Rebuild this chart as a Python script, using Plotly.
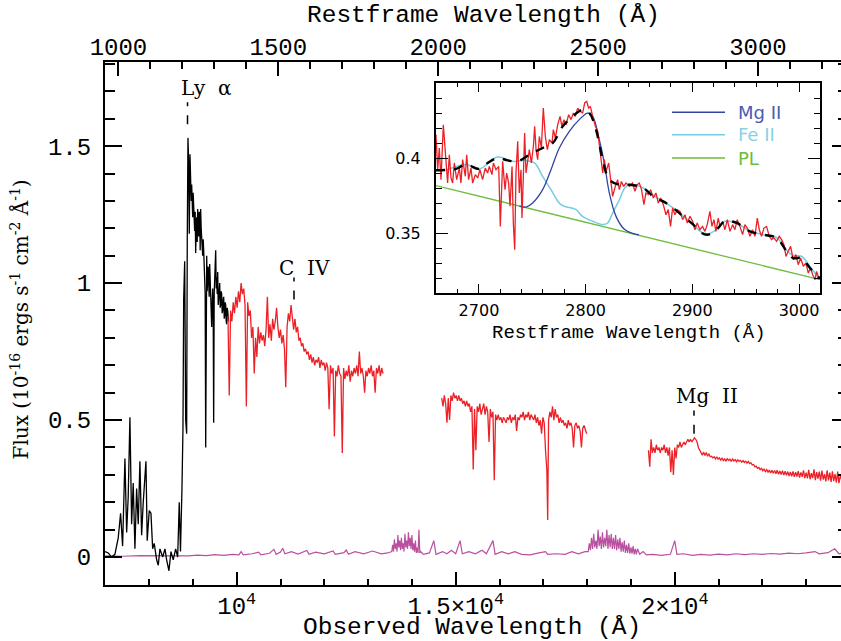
import plotly.graph_objects as go

# ---------------- data ----------------
one_plus_z = 7.30  # observed / restframe wavelength

black_wave = [6995, 7066, 7144, 7219, 7295, 7349, 7395, 7448, 7487, 7523, 7562, 7601, 7637, 7676,
              7715, 7752, 7790, 7829, 7866, 7928, 7957, 8003, 8042, 8081, 8117, 8172, 8209, 8247,
              8309, 8362, 8400, 8453, 8499, 8551, 8606, 8652, 8688, 8716, 8750, 8773, 8789, 8812,
              8835, 8857, 8871, 8887, 8903, 8917, 8933, 8949, 8961, 8972, 8984, 8995, 9006, 9017,
              9029, 9040, 9052, 9063, 9075, 9086, 9098, 9109, 9121, 9132, 9144, 9155, 9166, 9177,
              9189, 9200, 9212, 9223, 9235, 9246, 9258, 9269, 9280, 9292, 9304, 9315, 9326, 9337,
              9349, 9360, 9372, 9383, 9395, 9406, 9418, 9429, 9441, 9452, 9463, 9474, 9486, 9497,
              9509, 9520, 9532, 9543, 9555, 9566, 9578, 9589, 9600, 9612, 9623, 9634, 9646, 9657,
              9668, 9680, 9692, 9703, 9715, 9726, 9738, 9749, 9760, 9771, 9783, 9794, 9813]
black_flux = [0.02, 0.015, 0.0, 0.01, 0.07, 0.16, 0.04, 0.36, 0.09, 0.22, 0.51, 0.12, 0.27, 0.03,
              0.25, 0.12, 0.35, 0.08, 0.20, 0.35, 0.06, 0.17, 0.16, 0.03, 0.05, -0.01, -0.03, 0.03,
              0.0, 0.03, -0.01, -0.05, 0.02, -0.01, 0.03, 0.0, 0.20, 0.02, 0.25, 0.47, 0.94, 1.08,
              0.50, 0.45, 1.15, 1.53, 1.44, 1.18, 1.47, 1.39, 1.30, 1.36, 1.28, 1.24, 1.33, 1.30,
              1.22, 1.19, 1.26, 1.11, 1.20, 1.24, 1.15, 1.27, 1.21, 1.17, 1.26, 1.25, 1.12, 1.27,
              1.20, 1.18, 1.13, 1.10, 1.16, 1.12, 1.06, 1.04, 0.96, 0.40, 1.05, 1.10, 0.97, 1.02,
              1.06, 1.00, 0.95, 1.07, 0.98, 0.92, 0.88, 0.84, 0.93, 0.98, 0.90, 0.49, 0.96, 1.00,
              1.06, 1.12, 0.98, 1.02, 0.96, 1.04, 0.92, 0.95, 0.99, 1.00, 0.91, 0.92, 0.97, 0.96,
              0.89, 0.90, 0.94, 0.95, 0.87, 0.88, 0.93, 0.92, 0.86, 0.85, 0.91, 0.90, 0.86]

red_j_wave = [9800, 9830, 9860, 9890, 9920, 9950, 9980, 10010, 10040, 10070, 10100, 10130, 10160,
              10190, 10220, 10250, 10280, 10310, 10340, 10370, 10400, 10430, 10460, 10490, 10520,
              10550, 10580, 10610, 10640, 10670, 10700, 10730, 10760, 10790, 10820, 10850, 10880,
              10910, 10940, 10970, 11000, 11030, 11060, 11090, 11120, 11150, 11180, 11210, 11240,
              11270, 11300, 11330, 11360, 11390, 11420, 11450, 11480, 11510, 11540, 11570, 11600,
              11630, 11660, 11690, 11720, 11750, 11780, 11810, 11840, 11870, 11900, 11930, 11960,
              11990, 12020, 12050, 12080, 12110, 12140, 12170, 12200, 12230, 12260, 12290, 12320,
              12350, 12380, 12410, 12440, 12470, 12500, 12530, 12560, 12590, 12620, 12650, 12680,
              12710, 12740, 12770, 12800, 12830, 12860, 12890, 12920, 12950, 12980, 13010, 13040,
              13070, 13100, 13130, 13160, 13190, 13220, 13250, 13280, 13310, 13340]
red_j_flux = [0.88, 0.59, 0.90, 0.86, 0.93, 0.89, 0.95, 0.91, 0.97, 0.93, 1.00, 0.96, 0.98,
              0.92, 0.55, 0.93, 0.88, 0.90, 0.80, 0.84, 0.67, 0.80, 0.73, 0.84, 0.78,
              0.82, 0.79, 0.81, 0.77, 0.83, 0.95, 0.80, 0.85, 0.79, 0.87, 0.83, 0.86,
              0.91, 0.84, 0.80, 0.83, 0.78, 0.81, 0.76, 0.62, 0.84, 0.89, 0.86, 0.92,
              0.88, 0.83, 0.87, 0.82, 0.84, 0.79, 0.80, 0.77, 0.78, 0.75, 0.76, 0.74,
              0.75, 0.72, 0.74, 0.71, 0.73, 0.70, 0.72, 0.71, 0.73, 0.69, 0.72, 0.70,
              0.71, 0.68, 0.71, 0.69, 0.54, 0.70, 0.67, 0.69, 0.44, 0.68, 0.66, 0.70,
              0.67, 0.66, 0.38, 0.69, 0.65, 0.68, 0.66, 0.70, 0.64, 0.68, 0.66, 0.69,
              0.67, 0.70, 0.66, 0.75, 0.67, 0.69, 0.66, 0.60, 0.68, 0.66, 0.69, 0.67,
              0.70, 0.66, 0.68, 0.60, 0.69, 0.67, 0.70, 0.66, 0.69, 0.67]

red_h_wave = [14680, 14710, 14740, 14770, 14800, 14830, 14860, 14890, 14920, 14950, 14980, 15010,
              15040, 15070, 15100, 15130, 15160, 15190, 15220, 15250, 15280, 15310, 15340, 15370,
              15400, 15430, 15460, 15490, 15520, 15550, 15580, 15610, 15640, 15670, 15700, 15730,
              15760, 15790, 15820, 15850, 15880, 15910, 15940, 15970, 16000, 16030, 16060, 16090,
              16120, 16150, 16180, 16210, 16240, 16270, 16300, 16330, 16360, 16390, 16420, 16450,
              16480, 16510, 16540, 16570, 16600, 16630, 16660, 16690, 16720, 16750, 16780, 16810,
              16840, 16870, 16900, 16930, 16960, 16990, 17020, 17050, 17080, 17100, 17120, 17150,
              17180, 17210, 17240, 17270, 17300, 17330, 17360, 17390, 17420, 17450, 17480, 17510,
              17540, 17570, 17600, 17630, 17660, 17690, 17720, 17750, 17780, 17810, 17840, 17870,
              17900, 17930, 17960, 17990]
red_h_flux = [0.58, 0.55, 0.59, 0.56, 0.49, 0.58, 0.50, 0.59, 0.57, 0.60, 0.58, 0.59,
              0.57, 0.59, 0.57, 0.58, 0.56, 0.57, 0.55, 0.57, 0.55, 0.56, 0.53, 0.55,
              0.32, 0.54, 0.39, 0.55, 0.53, 0.56, 0.52, 0.54, 0.56, 0.52, 0.55, 0.53,
              0.42, 0.54, 0.51, 0.53, 0.28, 0.52, 0.50, 0.52, 0.50, 0.51, 0.49, 0.51,
              0.50, 0.49, 0.51, 0.50, 0.52, 0.49, 0.51, 0.50, 0.52, 0.46, 0.51, 0.50,
              0.52, 0.51, 0.53, 0.50, 0.52, 0.51, 0.53, 0.50, 0.52, 0.51, 0.50, 0.52,
              0.49, 0.51, 0.48, 0.50, 0.45, 0.51, 0.49, 0.39, 0.32, 0.135, 0.50, 0.53,
              0.51, 0.55, 0.50, 0.54, 0.51, 0.52, 0.49, 0.51, 0.49, 0.50, 0.48, 0.49,
              0.47, 0.50, 0.48, 0.49, 0.47, 0.40, 0.48, 0.49, 0.47, 0.48, 0.46, 0.40,
              0.47, 0.48, 0.46, 0.45]

red_k_wave = [19400, 19430, 19460, 19490, 19520, 19550, 19580, 19610, 19640, 19670, 19700, 19730,
              19760, 19790, 19820, 19850, 19880, 19910, 19940, 19970, 20000, 20030, 20060, 20090,
              20120, 20150, 20180, 20210, 20240, 20270, 20300, 20330, 20360, 20390, 20420, 20450,
              20480, 20510, 20540, 20570, 20600, 20630, 20660, 20690, 20720, 20750, 20780, 20810,
              20840, 20870, 20900, 20930, 20960, 20990, 21020, 21050, 21080, 21110, 21140, 21170,
              21200, 21230, 21260, 21290, 21320, 21350, 21380, 21410, 21440, 21470, 21500, 21530,
              21560, 21590, 21620, 21650, 21680, 21710, 21740, 21770, 21800, 21830, 21860, 21890,
              21920, 21950, 21980, 22010, 22040, 22070, 22100, 22130, 22160, 22190, 22220, 22250,
              22280, 22310, 22340, 22370, 22400, 22430, 22460, 22490, 22520, 22550, 22580, 22610,
              22640, 22670, 22700, 22730, 22760, 22790, 22820, 22850, 22880, 22910, 22940, 22970,
              23000, 23030, 23060, 23090, 23120, 23150, 23180, 23210, 23240, 23270, 23300, 23330,
              23360, 23390, 23420, 23450, 23480, 23510, 23540, 23570, 23600, 23630, 23660, 23690,
              23720, 23750, 23780, 23810]
red_k_flux = [0.39, 0.33, 0.43, 0.38, 0.40, 0.38, 0.41, 0.39, 0.40, 0.38, 0.40, 0.39,
              0.41, 0.38, 0.40, 0.37, 0.40, 0.31, 0.39, 0.30, 0.40, 0.36, 0.41, 0.40,
              0.42, 0.40, 0.41, 0.42, 0.41, 0.42, 0.43, 0.42, 0.43, 0.42, 0.43, 0.435,
              0.43, 0.42, 0.40, 0.39, 0.385, 0.372, 0.383, 0.371, 0.382, 0.368, 0.377, 0.366,
              0.368, 0.362, 0.366, 0.358, 0.366, 0.357, 0.362, 0.354, 0.361, 0.352, 0.358, 0.35,
              0.359, 0.353, 0.357, 0.349, 0.358, 0.351, 0.356, 0.348, 0.355, 0.349, 0.353, 0.346,
              0.352, 0.345, 0.35, 0.343, 0.349, 0.341, 0.344, 0.336, 0.338, 0.329, 0.332, 0.324,
              0.327, 0.319, 0.324, 0.315, 0.321, 0.312, 0.319, 0.309, 0.318, 0.307, 0.317, 0.306,
              0.316, 0.304, 0.317, 0.302, 0.314, 0.301, 0.315, 0.299, 0.313, 0.298, 0.312, 0.296,
              0.311, 0.295, 0.313, 0.293, 0.31, 0.294, 0.314, 0.29, 0.309, 0.293, 0.316, 0.288,
              0.308, 0.287, 0.318, 0.284, 0.306, 0.288, 0.32, 0.281, 0.31, 0.286, 0.312, 0.279,
              0.316, 0.283, 0.303, 0.276, 0.317, 0.28, 0.308, 0.274, 0.313, 0.277, 0.303, 0.272,
              0.312, 0.27, 0.298, 0.283]

err_wave = [7000, 7400, 7800, 8200, 8600, 8900, 9100, 9300, 9500, 9700, 9900, 10050, 10100, 10150,
            10350, 10500, 10550, 10750, 10850, 10900, 11000, 11050, 11100, 11250, 11400, 11600,
            11650, 11800, 12000, 12200, 12250, 12450, 12500, 12550, 12700, 12900, 13100, 13300,
            13450, 13540, 13560, 13580, 13600, 13620, 13640, 13660, 13680, 13700, 13720, 13740,
            13760, 13780, 13800, 13820, 13840, 13860, 13880, 13900, 13920, 13940, 13960, 13980,
            14000, 14020, 14040, 14060, 14080, 14100, 14120, 14140, 14160, 14180, 14200, 14260,
            14400, 14500, 14550, 14700, 14800, 14900, 15000, 15100, 15150, 15300, 15450, 15600,
            15700, 15850, 15900, 16050, 16200, 16350, 16500, 16700, 16900, 17050, 17100, 17300,
            17500, 17650, 17800, 17950, 18025, 18050, 18075, 18100, 18125, 18150, 18175, 18200,
            18225, 18250, 18275, 18300, 18325, 18350, 18375, 18400, 18425, 18450, 18475, 18500,
            18525, 18550, 18575, 18600, 18625, 18650, 18675, 18700, 18725, 18750, 18775, 18800,
            18825, 18850, 18875, 18900, 18925, 18950, 18975, 19000, 19025, 19050, 19075, 19100,
            19125, 19150, 19200, 19280, 19350, 19500, 19700, 19900, 20000, 20050, 20200, 20400,
            20600, 20800, 21000, 21200, 21400, 21600, 21800, 22000, 22200, 22400, 22600, 22800,
            23000, 23200, 23300, 23500, 23650, 23750, 23800]
err_flux = [0.004, 0.003, 0.005, 0.004, 0.005, 0.004, 0.007, 0.005, 0.009, 0.006, 0.01, 0.008, 0.02, 0.008,
            0.012, 0.018, 0.008, 0.014, 0.028, 0.01, 0.018, 0.032, 0.012, 0.02, 0.011, 0.024,
            0.01, 0.018, 0.012, 0.022, 0.01, 0.016, 0.026, 0.01, 0.02, 0.012, 0.022, 0.012,
            0.015, 0.02, 0.045, 0.02, 0.065, 0.03, 0.05, 0.02, 0.08, 0.035, 0.06, 0.025,
            0.07, 0.03, 0.05, 0.02, 0.085, 0.035, 0.06, 0.03, 0.09, 0.04, 0.07, 0.03,
            0.08, 0.025, 0.05, 0.02, 0.06, 0.015, 0.035, 0.015, 0.10, 0.015, 0.02, 0.01,
            0.015, 0.06, 0.01, 0.02, 0.012, 0.025, 0.012, 0.06, 0.012, 0.02, 0.012, 0.025,
            0.012, 0.06, 0.01, 0.02, 0.012, 0.02, 0.01, 0.008, 0.015, 0.02, 0.01, 0.012,
            0.01, 0.02, 0.012, 0.02, 0.02, 0.05, 0.025, 0.07, 0.03, 0.085, 0.035, 0.06,
            0.03, 0.10, 0.04, 0.075, 0.03, 0.09, 0.035, 0.07, 0.04, 0.10, 0.03, 0.08,
            0.035, 0.085, 0.03, 0.07, 0.03, 0.08, 0.025, 0.065, 0.03, 0.07, 0.02, 0.055,
            0.02, 0.06, 0.015, 0.045, 0.015, 0.05, 0.012, 0.035, 0.012, 0.04, 0.01, 0.03,
            0.01, 0.03, 0.01, 0.02, 0.008, 0.01, 0.006, 0.01, 0.06, 0.01, 0.012, 0.006,
            0.01, 0.007, 0.011, 0.008, 0.012, 0.009, 0.012, 0.01, 0.013, 0.011, 0.014, 0.012,
            0.015, 0.02, 0.012, 0.016, 0.03, 0.012, 0.014]

# inset (restframe)
inset_wave = [2659.7, 2661.3, 2662.8, 2664.4, 2666.6, 2668.5, 2670.6, 2672.2, 2673.8, 2675.3, 2676.9,
              2679.1, 2681.6, 2683.1, 2684.7, 2687.2, 2688.5, 2690.3, 2692.5, 2694.1, 2696.6, 2698.8,
              2700.9, 2703.4, 2705.9, 2708.1, 2709.7, 2712.2, 2713.5, 2716.0, 2718.5, 2720.0, 2722.2,
              2724.4, 2726.0, 2727.8, 2729.1, 2731.0, 2732.2, 2733.5, 2734.7, 2736.3, 2737.8, 2739.4,
              2740.3, 2741.6, 2742.8, 2744.1, 2745.6, 2747.2, 2749.1, 2751.0, 2752.2, 2753.5, 2755.0,
              2756.6, 2758.5, 2760.3, 2762.2, 2764.1, 2766.0, 2768.5, 2769.7, 2771.6, 2773.8, 2776.0,
              2777.8, 2779.7, 2781.6, 2784.1, 2786.3, 2788.5, 2790.3, 2792.5, 2794.7, 2797.2, 2799.1,
              2801.0, 2802.8, 2804.4, 2806.6, 2809.1, 2811.3, 2812.8, 2814.4, 2816.0, 2817.5, 2819.1,
              2821.6, 2823.8, 2825.3, 2827.8, 2830.0, 2831.6, 2833.5, 2835.6, 2837.8, 2841.0, 2844.0,
              2846.2, 2848.4, 2850.3, 2852.4, 2854.6, 2856.5, 2858.7, 2860.9, 2863.4, 2865.9, 2868.1,
              2870.3, 2872.8, 2875.3, 2877.4, 2879.6, 2881.5, 2883.7, 2885.9, 2888.4, 2890.9, 2893.1,
              2895.3, 2897.8, 2900.3, 2902.4, 2904.6, 2907.1, 2909.6, 2911.8, 2914.0, 2916.5, 2918.4,
              2920.3, 2922.1, 2924.3, 2925.9, 2928.4, 2930.6, 2932.8, 2935.3, 2937.8, 2939.9, 2942.1,
              2944.6, 2947.1, 2949.3, 2951.5, 2954.0, 2956.5, 2958.7, 2960.9, 2962.8, 2964.9, 2967.1,
              2969.6, 2972.1, 2974.3, 2976.5, 2979.0, 2981.5, 2983.7, 2985.9, 2987.8, 2989.9, 2992.1,
              2994.6, 2997.1, 2999.3, 3001.5, 3004.0, 3006.5, 3008.7, 3010.9, 3012.8, 3015.0, 3016.5,
              3018.4, 3019.6]
inset_flux = [0.4156, 0.3922, 0.4067, 0.3856, 0.4222, 0.4056, 0.3833, 0.4022, 0.3867, 0.3833, 0.3967,
              0.3856, 0.3933, 0.3833, 0.3989, 0.3878, 0.4022, 0.3856, 0.3933, 0.3833, 0.3889, 0.3867,
              0.3922, 0.3856, 0.3933, 0.3900, 0.3944, 0.3889, 0.3967, 0.3922, 0.3944, 0.3544, 0.3978,
              0.3789, 0.3900, 0.3833, 0.3678, 0.3944, 0.3567, 0.3389, 0.3900, 0.4111, 0.3767, 0.3922,
              0.3600, 0.3878, 0.4167, 0.3900, 0.3989, 0.4056, 0.3967, 0.4078, 0.4211, 0.4056, 0.3989,
              0.4144, 0.4067, 0.4333, 0.4144, 0.4056, 0.4122, 0.4100, 0.4189, 0.4133, 0.4222, 0.4278,
              0.4211, 0.4256, 0.4222, 0.4289, 0.4256, 0.4300, 0.4278, 0.4333, 0.4311, 0.4300, 0.4367,
              0.4378, 0.4333, 0.4344, 0.4278, 0.4211, 0.4178, 0.4089, 0.3989, 0.3900, 0.3989, 0.3911,
              0.3967, 0.3833, 0.3744, 0.3811, 0.3856, 0.3789, 0.3844, 0.3811, 0.3833, 0.3811, 0.3833,
              0.3778, 0.3822, 0.3833, 0.3789, 0.3689, 0.3767, 0.3756, 0.3789, 0.3733, 0.3767, 0.3700,
              0.3733, 0.3689, 0.3622, 0.3656, 0.3544, 0.3667, 0.3622, 0.3656, 0.3644, 0.3589, 0.3622,
              0.3567, 0.3611, 0.3578, 0.3522, 0.3567, 0.3522, 0.3544, 0.3511, 0.3556, 0.3644, 0.3544,
              0.3589, 0.3511, 0.3600, 0.3544, 0.3578, 0.3522, 0.3589, 0.3511, 0.3556, 0.3522, 0.3589,
              0.3544, 0.3489, 0.3556, 0.3533, 0.3478, 0.3522, 0.3478, 0.3600, 0.3522, 0.3478, 0.3533,
              0.3544, 0.3478, 0.3456, 0.3467, 0.3444, 0.3478, 0.3456, 0.3422, 0.3344, 0.3378, 0.3411,
              0.3322, 0.3356, 0.3289, 0.3333, 0.3278, 0.3300, 0.3233, 0.3267, 0.3222, 0.3189, 0.3244,
              0.3200, 0.3211]

fit_wave = [2659.7, 2672.2, 2678.5, 2687.8, 2700.3, 2708.1, 2717.5, 2726.9, 2736.3, 2747.2, 2759.7,
            2769.1, 2778.5, 2787.8, 2797.2, 2803.5, 2809.7, 2816.0, 2822.2, 2831.6, 2841.5, 2854.0,
            2865.0, 2872.7, 2882.0, 2891.5, 2900.9, 2908.7, 2915.0, 2922.7, 2930.6, 2941.5, 2954.0,
            2966.5, 2979.0, 2988.4, 2994.6, 3002.4, 3010.3, 3019.6]
fit_flux = [0.3918, 0.3922, 0.3927, 0.3956, 0.3927, 0.3967, 0.4000, 0.3984, 0.3978, 0.4022, 0.4067,
            0.4100, 0.4211, 0.4278, 0.4322, 0.4300, 0.4189, 0.3989, 0.3856, 0.3822, 0.3822, 0.3800,
            0.3733, 0.3711, 0.3667, 0.3611, 0.3556, 0.3500, 0.3489, 0.3522, 0.3578, 0.3567, 0.3511,
            0.3489, 0.3467, 0.3378, 0.3333, 0.3333, 0.3267, 0.3195]

mg_wave = [2738.0, 2744.1, 2750.3, 2759.7, 2767.5, 2775.3, 2784.7, 2794.0, 2801.9, 2806.6, 2812.8,
           2817.5, 2822.2, 2828.5, 2836.3, 2844.0, 2850.0]
mg_flux = [0.3680, 0.3673, 0.3700, 0.3789, 0.3922, 0.4067, 0.4178, 0.4256, 0.4300, 0.4278, 0.4122,
           0.3967, 0.3767, 0.3611, 0.3525, 0.3497, 0.3487]

fe_wave = [2669.0, 2687.8, 2700.3, 2717.5, 2731.5, 2744.0, 2752.0, 2759.7, 2767.5, 2776.9, 2791.0,
           2797.0, 2806.6, 2816.0, 2820.6, 2825.3, 2831.6, 2837.8, 2844.0, 2854.0, 2865.0, 2872.7,
           2882.0, 2891.5, 2900.9, 2908.7, 2915.0, 2922.7, 2930.6, 2941.5, 2954.0, 2966.5, 2979.0,
           2988.4, 2994.6, 3002.4, 3010.3, 3018.0]
fe_flux = [0.3918, 0.3956, 0.3927, 0.4007, 0.3978, 0.3984, 0.3967, 0.3878, 0.3789, 0.3689, 0.3656,
           0.3611, 0.3578, 0.3556, 0.3567, 0.3633, 0.3722, 0.3811, 0.3822, 0.3800, 0.3745, 0.3711,
           0.3667, 0.3611, 0.3556, 0.3505, 0.3495, 0.3525, 0.3578, 0.3567, 0.3511, 0.3489, 0.3470,
           0.3385, 0.3350, 0.3345, 0.3275, 0.3205]

pl_wave = [2659.7, 2840.0, 3019.7]
pl_flux = [0.3816, 0.3502, 0.3189]

line_names = ["Ly\u00a0\u00a0α", "C\u00a0\u00a0IV", "Mg\u00a0\u00a0II"]
line_rest = [1216, 1549, 2800]

legend_names = ["Mg II", "Fe II", "PL"]

# ---------------- styles ----------------
RED = "#ec2127"
MAG = "#b9509f"
BLUE = "#3244a0"
CYAN = "#74cde0"
GREEN = "#6cbd3c"
MONO = "Liberation Mono"
SERIF = "DejaVu Serif"
SANS = "DejaVu Sans"

fig = go.Figure()

def add(x, y, color, width, xa="x", ya="y", dash=None, shape="linear"):
    fig.add_trace(go.Scatter(x=x, y=y, mode="lines", xaxis=xa, yaxis=ya, hoverinfo="skip",
                             line=dict(color=color, width=width, dash=dash, shape=shape)))

add(err_wave, err_flux, MAG, 1.2)
add(black_wave, black_flux, "black", 1.3)
add(red_j_wave, red_j_flux, RED, 1.3)
add(red_h_wave, red_h_flux, RED, 1.3)
add(red_k_wave, red_k_flux, RED, 1.3)

x_lo, x_hi = 6993, 23796
y_lo, y_hi = -0.102, 1.807

# invisible anchors so the top (restframe) and right tick axes are drawn
fig.add_trace(go.Scatter(x=[x_lo / one_plus_z], y=[None], xaxis="x2", yaxis="y", mode="markers",
                         marker=dict(opacity=0), hoverinfo="skip"))
fig.add_trace(go.Scatter(x=[x_lo], y=[None], xaxis="x", yaxis="y4", mode="markers",
                         marker=dict(opacity=0), hoverinfo="skip"))

# inset
add(pl_wave, pl_flux, GREEN, 1.3, "x3", "y3")
add(fe_wave, fe_flux, CYAN, 1.5, "x3", "y3", shape="spline")
add(mg_wave, mg_flux, BLUE, 1.3, "x3", "y3", shape="spline")
add(inset_wave, inset_flux, RED, 1.3, "x3", "y3")
add(fit_wave, fit_flux, "black", 2.4, "x3", "y3", dash="dash", shape="spline")

tickfont_main = dict(family=MONO, size=24, color="black")
fig.update_layout(
    width=841, height=641,
    margin=dict(l=105, r=0, t=62, b=56),
    paper_bgcolor="white", plot_bgcolor="white",
    showlegend=False,
    xaxis=dict(domain=[0, 1], anchor="y", range=[x_lo, x_hi], showgrid=False, zeroline=False,
               showline=True, linecolor="black", linewidth=2,
               ticks="inside", ticklen=13, tickwidth=1.5, tickcolor="black",
               tickmode="array", tickvals=[10000, 15000, 20000],
               ticktext=["10<sup>4</sup>", "1.5×10<sup>4</sup>", "2×10<sup>4</sup>"],
               minor=dict(ticks="inside", ticklen=6, tickwidth=1.5, tickcolor="black",
                          tick0=0, dtick=1000, showgrid=False),
               tickfont=tickfont_main, ticklabelstandoff=-2),
    xaxis2=dict(overlaying="x", side="top", anchor="y",
                range=[x_lo / one_plus_z, x_hi / one_plus_z], showgrid=False, zeroline=False,
                showline=True, linecolor="black", linewidth=2,
                ticks="inside", ticklen=14, tickwidth=1.5, tickcolor="black",
                tickmode="linear", tick0=1000, dtick=500,
                minor=dict(ticks="inside", ticklen=7, tickwidth=1.5, tickcolor="black",
                           tick0=0, dtick=100, showgrid=False),
                tickfont=tickfont_main, ticklabelstandoff=-5),
    yaxis=dict(domain=[0, 1], anchor="x", range=[y_lo, y_hi], showgrid=False, zeroline=False,
               showline=True, linecolor="black", linewidth=2,
               ticks="inside", ticklen=17, tickwidth=1.5, tickcolor="black",
               tickmode="array", tickvals=[0, 0.5, 1, 1.5], ticktext=["0", "0.5", "1", "1.5"],
               minor=dict(ticks="inside", ticklen=10, tickwidth=1.5, tickcolor="black",
                          tick0=0, dtick=0.1, showgrid=False),
               tickfont=tickfont_main, ticklabelstandoff=7),
    yaxis4=dict(overlaying="y", side="right", anchor="x", range=[y_lo, y_hi],
                showgrid=False, zeroline=False, showline=False, showticklabels=False,
                ticks="inside", ticklen=9, tickwidth=1.5, tickcolor="black",
                tickmode="array", tickvals=[0, 0.5, 1, 1.5],
                minor=dict(ticks="inside", ticklen=3, tickwidth=1.5, tickcolor="black",
                           tick0=0, dtick=0.1, showgrid=False)),
    xaxis3=dict(domain=[0.4497, 0.9715], anchor="y3", range=[2659.7, 3019.7],
                showgrid=False, zeroline=False, showline=True, linecolor="black", linewidth=2,
                mirror="ticks", ticks="inside", ticklen=9, tickwidth=1.2, tickcolor="black",
                tickmode="linear", tick0=2700, dtick=100,
                minor=dict(ticks="inside", ticklen=4, tickwidth=1.2, tickcolor="black",
                           tick0=2700, dtick=20, showgrid=False),
                tickfont=dict(family=SANS, size=16, color="black"), ticklabelstandoff=2),
    yaxis3=dict(domain=[0.5583, 0.9598], anchor="x3", range=[0.31, 0.45],
                showgrid=False, zeroline=False, showline=True, linecolor="black", linewidth=2,
                mirror="ticks", ticks="inside", ticklen=12, tickwidth=1.2, tickcolor="black",
                tickmode="array", tickvals=[0.35, 0.4], ticktext=["0.35", "0.4"],
                minor=dict(ticks="inside", ticklen=6, tickwidth=1.2, tickcolor="black",
                           tick0=0.3, dtick=0.01, showgrid=False),
                tickfont=dict(family=SANS, size=16, color="black"), ticklabelstandoff=10),
)

# axis titles as annotations
ann = []
ann.append(dict(text="Observed Wavelength (Å)", xref="paper", yref="paper", x=0.499, y=-0.081,
                xanchor="center", yanchor="middle", showarrow=False,
                font=dict(family=MONO, size=24.5, color="black")))
ann.append(dict(text="Restframe Wavelength (Å)", xref="paper", yref="paper", x=0.514, y=1.088,
                xanchor="center", yanchor="middle", showarrow=False,
                font=dict(family=MONO, size=24.5, color="black")))
ann.append(dict(text="Flux (10<sup>-16</sup> ergs s<sup>-1</sup> cm<sup>-2</sup> Å<sup>-1</sup>)",
                xref="paper", yref="paper", x=-0.116, y=0.507, textangle=-90,
                xanchor="center", yanchor="middle", showarrow=False,
                font=dict(family=SERIF, size=20, color="black")))
ann.append(dict(text="Restframe Wavelength (Å)", xref="paper", yref="paper", x=0.712, y=0.482,
                xanchor="center", yanchor="middle", showarrow=False,
                font=dict(family=MONO, size=19, color="black")))

# emission line labels and markers
label_pos = [(9299, 1.712), (11538, 1.055), (20745, 0.588)]
marker_span = [(1.58, 1.66), (0.94, 1.02), (0.45, 0.535)]
shapes = []
for name, rest, (lx, ly), (m0, m1) in zip(line_names, line_rest, label_pos, marker_span):
    ann.append(dict(text=name, xref="x", yref="y", x=lx, y=ly, xanchor="center", yanchor="middle",
                    showarrow=False, font=dict(family=SERIF, size=20, color="black")))
    shapes.append(dict(type="line", xref="x", yref="y", x0=rest * one_plus_z, x1=rest * one_plus_z,
                       y0=m0, y1=m1, line=dict(color="black", width=1.5, dash="dash")))

# inset legend
leg_colors = [BLUE, CYAN, GREEN]
leg_text_colors = ["#4a5cb0", "#86d3e6", "#6cbd3c"]
leg_y = [0.9038, 0.8610, 0.8164]
for name, c, tc, yy in zip(legend_names, leg_colors, leg_text_colors, leg_y):
    shapes.append(dict(type="line", xref="paper", yref="paper", x0=0.7704, x1=0.8424, y0=yy, y1=yy,
                       line=dict(color=c, width=1.5)))
    ann.append(dict(text=name, xref="paper", yref="paper", x=0.8573, y=yy, xanchor="left",
                    yanchor="middle", showarrow=False, font=dict(family=SANS, size=18, color=tc)))

fig.update_layout(annotations=ann, shapes=shapes)
fig.write_html("out.html", config={"displayModeBar": False},
               post_script="document.body.style.margin='0px';")
